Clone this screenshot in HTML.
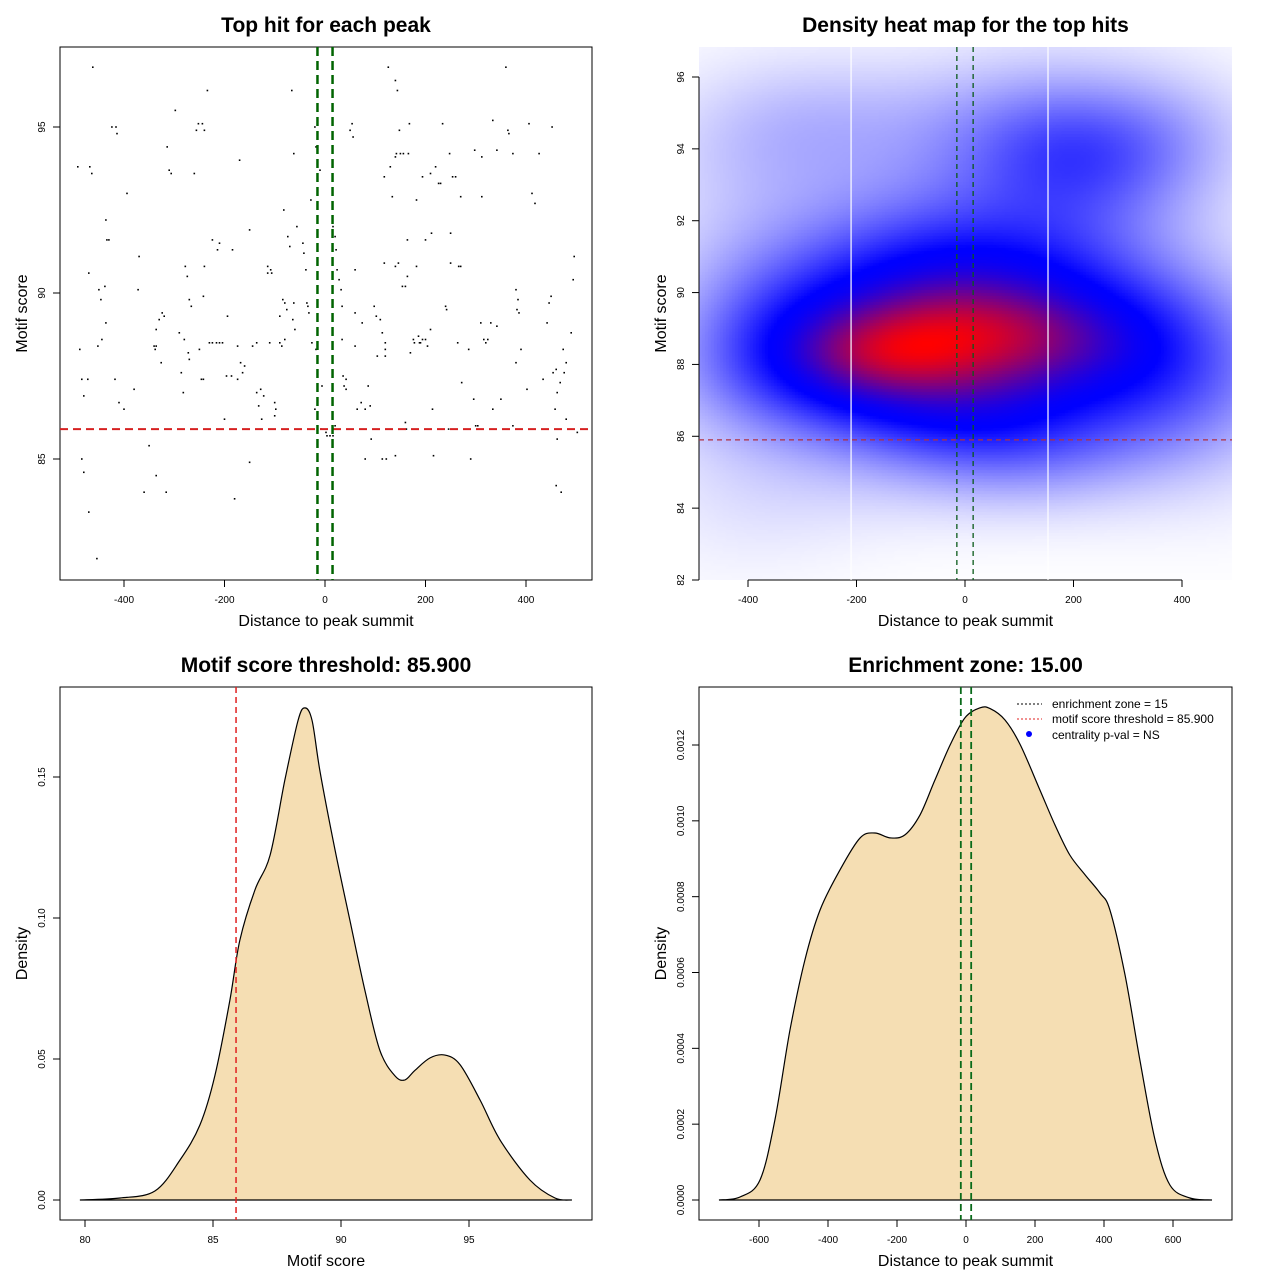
<!DOCTYPE html>
<html><head><meta charset="utf-8">
<style>
html,body{margin:0;padding:0;background:#fff;}
#wrap{position:relative;width:1280px;height:1280px;overflow:hidden;}
#heat{position:absolute;left:699px;top:47px;}
svg{position:absolute;left:0;top:0;}
text{font-family:"Liberation Sans",sans-serif;}
</style></head>
<body>
<div id="wrap">
<canvas id="heat" width="533" height="533"></canvas>
<svg id="svg" width="1280" height="1280" xmlns="http://www.w3.org/2000/svg"></svg>
</div>
<script>
// ---------- data ----------
const hitDistance = [-492,-462,-488,-484,-480,-468,-464,-470,-472,-450,-446,-452,-444,-436,-438,-436,-434,-430,-424,-416,-414,-418,-410,-400,-454,-470,-480,-484,-394,-380,-370,-372,-340,-338,-336,-336,-326,-320,-330,-324,-314,-310,-306,-298,-290,-280,-286,-282,-278,-274,-272,-270,-270,-266,-260,-256,-252,-244,-240,-234,-250,-246,-242,-240,-242,-230,-224,-216,-210,-204,-224,-214,-210,-200,-194,-196,-186,-184,-180,-174,-174,-170,-168,-164,-160,-150,-144,-136,-136,-132,-128,-126,-122,-114,-114,-108,-106,-110,-100,-100,-98,-90,-86,-80,-82,-74,-70,-90,-84,-80,-76,-64,-62,-60,-66,-62,-56,-44,-42,-38,-36,-34,-32,-28,-26,-20,-18,-18,-10,-8,-6,2,4,10,16,20,16,20,22,24,28,32,34,34,36,42,38,42,50,54,56,60,60,60,74,72,64,80,86,90,92,98,102,104,110,114,120,120,118,120,122,126,140,144,130,134,140,142,146,150,154,160,160,162,164,164,166,170,176,178,182,182,186,188,190,194,200,204,210,214,216,220,226,230,234,240,242,246,248,250,254,260,266,270,264,272,286,290,296,300,304,310,316,320,324,330,334,334,342,350,360,364,366,374,380,384,382,386,380,374,390,402,406,412,418,426,434,442,446,450,452,454,460,462,458,462,460,470,474,476,480,468,480,490,494,496,502,342,312,298,312,270,250,212,210,200,140,118,194,168,148,156,-350,-360,-336,-316,-150,80,114,140,-20];
const hitScore = [93.8,96.8,88.3,87.4,86.9,93.8,93.6,90.6,87.4,90.1,89.8,88.4,88.6,89.1,90.2,92.2,91.6,91.6,95.0,95.0,94.8,87.4,86.7,86.5,82.0,83.4,84.6,85.0,93.0,87.1,91.1,90.1,88.4,88.3,88.4,88.9,87.9,89.3,89.2,89.4,94.4,93.7,93.6,95.5,88.8,88.6,87.6,87.0,90.8,90.5,88.2,88.0,89.8,89.6,93.6,94.9,95.1,95.1,94.9,96.1,88.3,87.4,87.4,90.8,89.9,88.5,88.5,88.5,88.5,88.5,91.6,91.3,91.5,86.2,89.3,87.5,87.5,91.3,83.8,88.4,87.4,94.0,87.9,87.6,87.8,91.9,88.4,88.5,87.0,86.6,87.1,86.2,86.9,90.8,90.6,90.7,90.6,88.5,86.7,86.3,86.5,88.5,88.4,88.6,92.5,91.7,91.4,89.3,89.8,89.7,89.5,89.2,89.7,88.9,96.1,94.2,92.0,91.5,91.2,90.7,89.7,89.6,89.4,92.8,88.5,95.0,94.4,88.3,93.7,85.9,87.2,85.8,85.7,85.7,85.7,86.0,92.0,91.7,91.3,90.7,90.4,90.1,89.6,88.6,87.5,87.4,87.2,87.1,94.9,95.1,94.7,90.7,89.4,88.4,89.1,86.7,86.5,86.5,87.2,86.6,85.6,89.6,89.3,88.1,89.2,88.8,88.5,88.3,90.9,88.1,85.0,96.8,96.4,96.1,93.8,92.9,90.8,94.2,90.9,94.2,90.2,90.2,86.1,85.9,91.6,90.5,94.2,88.2,88.6,88.5,92.8,90.8,88.7,88.5,88.5,88.6,88.6,88.4,88.9,86.5,85.1,93.8,93.3,93.3,95.1,89.6,89.5,85.9,94.2,90.9,93.5,93.5,90.8,90.8,88.5,87.3,88.3,85.0,86.8,86.0,86.0,89.1,88.6,88.5,88.6,89.1,86.5,95.2,89.0,86.8,96.8,94.9,94.8,94.2,90.1,89.8,89.5,89.4,87.9,86.0,88.3,87.1,95.1,93.0,92.7,94.2,87.4,89.1,89.7,89.9,95.0,87.6,87.7,87.0,86.5,85.6,84.2,84.0,88.3,87.6,87.9,87.3,86.2,88.8,90.4,91.1,85.8,94.3,94.1,94.3,92.9,92.9,91.8,91.8,93.6,91.6,94.1,93.5,93.5,95.1,94.9,94.2,85.4,84.0,84.5,84.0,84.9,85.0,85.0,85.1,86.5];
const scoreGrid = [79.8,81.37,82.73,83.71,84.49,85.08,85.66,86.05,86.64,87.23,87.81,88.32,88.59,88.87,89.18,89.77,90.35,90.94,91.52,92.11,92.5,92.89,93.48,94.06,94.65,95.43,96.21,97.38,98.36,99.02];
const scoreDensity = [0,0.0007,0.0032,0.0142,0.0266,0.0443,0.0709,0.0922,0.110,0.1223,0.149,0.170,0.1745,0.170,0.152,0.124,0.099,0.074,0.053,0.044,0.0426,0.046,0.0504,0.0514,0.048,0.0355,0.0213,0.0071,0.0007,0];
const distGrid = [-716,-655,-597,-554,-510,-467,-423,-365,-307,-264,-220,-177,-133,-90,-46,-3,41,70,113,157,214,258,301,345,388,417,461,504,548,591,649,713];
const distDensity = [0,0.0000079,0.0000527,0.000211,0.000449,0.000633,0.000765,0.000871,0.000955,0.000968,0.000955,0.000963,0.001016,0.001108,0.0012,0.001272,0.001298,0.001296,0.001266,0.001201,0.001082,0.000989,0.000910,0.000858,0.000810,0.000765,0.000594,0.000369,0.000158,0.0000396,0.0000053,0];
const scoreThreshold = 85.9;
const enrichmentZone = 15;
const ticks1x = [-400,-200,0,200,400];
const ticks1y = [85,90,95];
const ticks2y = [82,84,86,88,90,92,94,96];
const ticks3x = [80,85,90,95];
const ticks3y = [0,0.05,0.10,0.15];
const ticks4x = [-600,-400,-200,0,200,400,600];
const ticks4y = [0,0.0002,0.0004,0.0006,0.0008,0.0010,0.0012];

// ---------- helpers ----------
const NS = "http://www.w3.org/2000/svg";
const svg = document.getElementById('svg');
function mk(tag, attrs, parent, txt){
  const e = document.createElementNS(NS, tag);
  for (const k in attrs) e.setAttribute(k, attrs[k]);
  if (txt !== undefined) e.textContent = txt;
  (parent || svg).appendChild(e);
  return e;
}
function lin(d0,d1,p0,p1){ return v => p0 + (v-d0)*(p1-p0)/(d1-d0); }
function smoothPath(pts){
  let d = 'M'+pts[0][0]+','+pts[0][1];
  for (let i=0;i<pts.length-1;i++){
    const p0=pts[Math.max(0,i-1)], p1=pts[i], p2=pts[i+1], p3=pts[Math.min(pts.length-1,i+2)];
    const c1x=p1[0]+(p2[0]-p0[0])/6, c1y=p1[1]+(p2[1]-p0[1])/6;
    const c2x=p2[0]-(p3[0]-p1[0])/6, c2y=p2[1]-(p3[1]-p1[1])/6;
    d += ' C'+c1x.toFixed(1)+','+c1y.toFixed(1)+' '+c2x.toFixed(1)+','+c2y.toFixed(1)+' '+p2[0].toFixed(1)+','+p2[1].toFixed(1);
  }
  return d;
}
function panel(name, box, title, xlab, ylab, sx, sy, xt, yt, xfmt, yfmt, drawBox){
  const g = mk('g', {});
  
  
  const [L,T,R,B] = box;
  if (drawBox){
    const r = mk('rect',{x:L,y:T,width:R-L,height:B-T,fill:'none',stroke:'#000','stroke-width':1},g);
    
    
  }
  const t = mk('text',{x:(L+R)/2,y:T-15,'text-anchor':'middle','font-size':21,'font-weight':'bold'},g,title);
  
  
  const xl = mk('text',{x:(L+R)/2,y:B+46,'text-anchor':'middle','font-size':16},g,xlab);
  
  
  const cy=(T+B)/2;
  const yl = mk('text',{x:L-38,y:cy+5,'text-anchor':'middle','font-size':16,transform:'rotate(-90 '+(L-38)+' '+cy+')'},g,ylab);
  
  
  const xa = mk('g',{},g);
  
  
  mk('line',{x1:sx(xt[0]),x2:sx(xt[xt.length-1]),y1:B,y2:B,stroke:'#000'},xa);
  xt.forEach(v=>{
    const x=sx(v);
    mk('line',{x1:x,x2:x,y1:B,y2:B+7,stroke:'#000'},xa);
    const tl = mk('text',{x:x,y:B+23,'text-anchor':'middle','font-size':10},xa,xfmt(v));
    
    
  });
  const ya = mk('g',{},g);
  
  
  mk('line',{x1:L,x2:L,y1:sy(yt[0]),y2:sy(yt[yt.length-1]),stroke:'#000'},ya);
  yt.forEach(v=>{
    const y=sy(v);
    mk('line',{x1:L-7,x2:L,y1:y,y2:y,stroke:'#000'},ya);
    const tl = mk('text',{x:L-15,y:y,'text-anchor':'middle','font-size':10,transform:'rotate(-90 '+(L-15)+' '+y+')'},ya,yfmt(v));
    
    
  });
  return g;
}
const intFmt = v => String(v);

// ---------- panel 1: scatter ----------
{
  const box=[60,47,592,580];
  const sx=lin(0,400,325,526), sy=lin(90,95,293,127);
  const g=panel('scatter-panel',box,'Top hit for each peak','Distance to peak summit','Motif score',sx,sy,ticks1x,ticks1y,intFmt,intFmt,true);
  hitDistance.forEach((d,i)=>{
    const c=mk('rect',{x:(sx(d)-0.8).toFixed(1),y:(sy(hitScore[i])-0.8).toFixed(1),width:1.6,height:1.6,fill:'#000'},g);
    
    
  });
  const h=mk('line',{x1:box[0],x2:box[2],y1:sy(scoreThreshold),y2:sy(scoreThreshold),stroke:'#d62020','stroke-width':2,'stroke-dasharray':'8,5'},g);
  
  
  [-enrichmentZone,enrichmentZone].forEach(z=>{
    const v=mk('line',{x1:sx(z),x2:sx(z),y1:box[1],y2:box[3],stroke:'#006400','stroke-width':2.5,'stroke-dasharray':'9,5'},g);
    
    
  });
}

// ---------- panel 2: heatmap ----------
{
  const box=[699,47,1232,580];
  const sx=lin(0,400,965,1182), sy=lin(82,96,580,77);
  const g=panel('heatmap-panel',box,'Density heat map for the top hits','Distance to peak summit','Motif score',sx,sy,ticks1x.slice(0),ticks2y,intFmt,intFmt,false);
  const cv=document.getElementById('heat'), ctx=cv.getContext('2d');
  const W=533,H=533,step=3;
  const bwx=150, bwy=1.3;
  const grid=[]; let mx=0;
  for(let py=0;py<H;py+=step){
    const row=[];
    for(let px=0;px<W;px+=step){
      const dx=(box[0]+px-965)*400/217, dy=96-(box[1]+py-77)/(503/14);
      let s=0;
      for(let i=0;i<hitDistance.length;i++){
        const a=(hitDistance[i]-dx)/bwx, b=(hitScore[i]-dy)/bwy;
        s+=Math.exp(-0.5*(a*a+b*b));
      }
      row.push(s); if(s>mx)mx=s;
    }
    grid.push(row);
  }
  grid.forEach((row,r)=>row.forEach((s,c)=>{
    let t=s/mx; let R,G,B;
    const k=0.68;
    if(t<k){const u=Math.pow(t/k,1.3);R=Math.round(255*(1-u));G=R;B=255;}
    else{const u=Math.pow((t-k)/(1-k),2.0);R=Math.round(255*u);G=0;B=Math.round(255*(1-u));}
    ctx.fillStyle='rgb('+R+','+G+','+B+')';
    ctx.fillRect(c*step,r*step,step,step);
  }));
  [-210,153].forEach(v=>{
    const w=mk('line',{x1:sx(v),x2:sx(v),y1:box[1],y2:box[3],stroke:'#fff','stroke-width':1.2},g);
    
    
  });
  const h=mk('line',{x1:box[0],x2:box[2],y1:sy(scoreThreshold),y2:sy(scoreThreshold),stroke:'#b03040','stroke-width':1.3,'stroke-dasharray':'5,4'},g);
  
  
  [-enrichmentZone,enrichmentZone].forEach(z=>{
    const v=mk('line',{x1:sx(z),x2:sx(z),y1:box[1],y2:box[3],stroke:'#0a5a1a','stroke-width':1.3,'stroke-dasharray':'5,4'},g);
    
    
  });
}

// ---------- panel 3: score density ----------
{
  const box=[60,687,592,1220];
  const sx=lin(80,95,85,469), sy=lin(0,0.15,1200,777);
  const g=panel('score-density-panel',box,'Motif score threshold: 85.900','Motif score','Density',sx,sy,ticks3x,ticks3y,intFmt,v=>v.toFixed(2),true);
  const pts=scoreGrid.map((x,i)=>[sx(x),sy(scoreDensity[i])]);
  const p=mk('path',{d:smoothPath(pts)+' Z',fill:'#f5deb3',stroke:'#000','stroke-width':1.2},g);
  
  
  const v=mk('line',{x1:sx(scoreThreshold),x2:sx(scoreThreshold),y1:box[1],y2:box[3],stroke:'#e02020','stroke-width':1.5,'stroke-dasharray':'6,4'},g);
  
  
}

// ---------- panel 4: distance density ----------
{
  const box=[699,687,1232,1220];
  const sx=lin(0,600,966,1173), sy=lin(0,0.0012,1200,745);
  const g=panel('distance-density-panel',box,'Enrichment zone: 15.00','Distance to peak summit','Density',sx,sy,ticks4x,ticks4y,intFmt,v=>v.toFixed(4),true);
  const pts=distGrid.map((x,i)=>[sx(x),sy(distDensity[i])]);
  const p=mk('path',{d:smoothPath(pts)+' Z',fill:'#f5deb3',stroke:'#000','stroke-width':1.2},g);
  
  
  [-enrichmentZone,enrichmentZone].forEach(z=>{
    const v=mk('line',{x1:sx(z),x2:sx(z),y1:box[1],y2:box[3],stroke:'#0a6a1a','stroke-width':1.8,'stroke-dasharray':'7,4'},g);
    
    
  });
  const lg=mk('g',{},g);
  
  
  const e1=mk('line',{x1:1017,x2:1042,y1:704,y2:704,stroke:'#000','stroke-dasharray':'2,2'},lg);
  
  
  const t1=mk('text',{x:1052,y:708,'font-size':12},lg,'enrichment zone = 15');
  
  
  const e2=mk('line',{x1:1017,x2:1042,y1:719,y2:719,stroke:'#e02020','stroke-dasharray':'2,2'},lg);
  
  
  const t2=mk('text',{x:1052,y:723,'font-size':12},lg,'motif score threshold = 85.900');
  
  
  const e3=mk('circle',{cx:1029,cy:734,r:3,fill:'#0000ff'},lg);
  
  
  const t3=mk('text',{x:1052,y:739,'font-size':12},lg,'centrality p-val = NS');
  
  
}
</script>
</body></html>
